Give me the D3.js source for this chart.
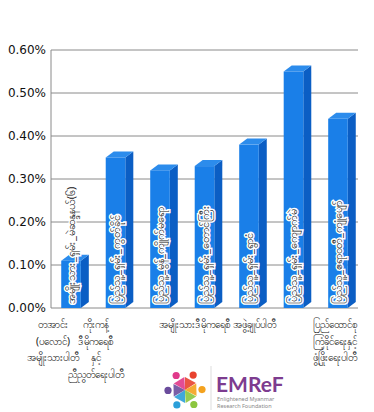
<!DOCTYPE html>
<html>
<head>
<meta charset="utf-8">
<script src="https://cdn.jsdelivr.net/npm/d3@7"></script>
<style>
  body { margin: 0; background: #fff; }
  svg { display: block; }
</style>
</head>
<body>
<div id="chart"></div>
<script>
// constituency on each bar
const seats = [
  "အမျိုးသား_ရှမ်း_မဲဆန္ဒနယ်(၆)",
  "ပြည်သူ့_ရှမ်း_ကွတ်ခိုင်",
  "ပြည်သူ့_မွန်_ကျိုက်မရော",
  "ပြည်သူ့_ရှမ်း_တောင်ကြီး",
  "ပြည်သူ့_ရှမ်း_ရွာငံ",
  "ပြည်သူ့_ရှမ်း_ကျောက်မဲ",
  "ပြည်သူ့_ဧရာဝတီ_ကျုံပျော်"
];
const values = [0.11, 0.35, 0.32, 0.33, 0.38, 0.55, 0.44];
const yTicks = [0, 0.1, 0.2, 0.3, 0.4, 0.5, 0.6];

// party groups on the x axis (first and last bar index)
const partyLines = [
  ["တအာင်း", "(ပလောင်)", "အမျိုးသားပါတီ"],
  ["ကိုးကန့်", "ဒီမိုကရေစီ", "နှင့်", "ညီညွတ်ရေးပါတီ"],
  ["အမျိုးသားဒီမိုကရေစီ အဖွဲ့ချုပ်ပါတီ"],
  ["ပြည်ထောင်စု", "ကြံ့ခိုင်ရေးနှင့်", "ဖွံ့ဖြိုးရေးပါတီ"]
];
const partyFirst = [0, 1, 2, 6];
const partyLast = [0, 1, 5, 6];

const W = 374, H = 412;
const mLeft = 51, mRight = 358, mTop = 50, mBottom = 308;
const depthX = 8, depthY = 6;
// group labels sit a little left of their bars, like in excel
const labelShift = [-18, -20, -9, -3];

const svg = d3.select("#chart").append("svg")
  .attr("width", W).attr("height", H);

const x = d3.scaleBand().domain(d3.range(values.length))
  .range([mLeft, mRight]).paddingInner(0.56).paddingOuter(0.23);
const y = d3.scaleLinear().domain([0, 0.6]).range([mBottom, mTop]);

// gridlines
svg.append("g").selectAll("line").data(yTicks).join("line")
  .attr("x1", mLeft).attr("x2", mRight)
  .attr("y1", d => y(d)).attr("y2", d => y(d))
  .attr("stroke", "#8a8a8a").attr("stroke-width", 1);

svg.append("line")
  .attr("x1", mLeft).attr("x2", mLeft).attr("y1", y(0.6)).attr("y2", y(0))
  .attr("stroke", "#8a8a8a");

// y axis labels
const yAxis = d3.axisLeft(y).tickValues(yTicks)
  .tickFormat(d => d3.format(".2f")(d) + "%").tickSize(0).tickPadding(5);
svg.append("g").attr("transform", `translate(${mLeft},0)`).call(yAxis)
  .call(g => g.select(".domain").remove())
  .selectAll("text")
  .attr("font-family", "DejaVu Sans, Verdana, sans-serif")
  .attr("font-size", 12).attr("fill", "#111");

// 3d bars
const bars = svg.append("g").selectAll("g").data(values).join("g");
bars.append("path") // side
  .attr("d", (d, i) => {
    const x1 = x(i) + x.bandwidth();
    return `M${x1},${y(d)} L${x1 + depthX},${y(d) - depthY} L${x1 + depthX},${y(0) - depthY} L${x1},${y(0)} Z`;
  })
  .attr("fill", "#0b5ec4");
bars.append("path") // top
  .attr("d", (d, i) => {
    const x0 = x(i), x1 = x(i) + x.bandwidth();
    return `M${x0},${y(d)} L${x0 + depthX},${y(d) - depthY} L${x1 + depthX},${y(d) - depthY} L${x1},${y(d)} Z`;
  })
  .attr("fill", "#2c8cec");
bars.append("rect") // front
  .attr("x", (d, i) => x(i)).attr("width", x.bandwidth())
  .attr("y", d => y(d)).attr("height", d => y(0) - y(d))
  .attr("fill", "#1a7fe8");

// labels inside bars
svg.append("g").selectAll("text").data(seats).join("text")
  .attr("transform", (d, i) => `translate(${x(i) + x.bandwidth() / 2 + 4},${y(0) - 4}) rotate(-90)`)
  .attr("font-family", "Noto Sans, DejaVu Sans, sans-serif")
  .attr("font-size", 11).attr("fill", "#111")
  .attr("stroke", "#fff").attr("stroke-width", 3).attr("paint-order", "stroke")
  .text(d => d);

// party labels
const party = svg.append("g").selectAll("text").data(partyLines).join("text")
  .attr("font-family", "Noto Sans, DejaVu Sans, sans-serif")
  .attr("font-size", 10).attr("fill", "#111").attr("text-anchor", "middle")
  .attr("transform", (d, i) => {
    const cx = (x(partyFirst[i]) + x(partyLast[i]) + x.bandwidth()) / 2 + labelShift[i];
    return `translate(${cx},328)`;
  });
party.selectAll("tspan").data(d => d).join("tspan")
  .attr("x", 0).attr("dy", (d, j) => j === 0 ? 0 : 16.5)
  .text(d => d);

// EMReF logo
const logo = svg.append("g").attr("transform", "translate(185,390)");
const figColors = ["#e8432f", "#f4a21e", "#8cc63f", "#2b9fd9", "#6a4c9c", "#e0398a"];
figColors.forEach((c, i) => {
  const a = (i * 60 - 90) * Math.PI / 180;
  logo.append("circle").attr("cx", 17 * Math.cos(a + 0.5)).attr("cy", 17 * Math.sin(a + 0.5))
    .attr("r", 3.6).attr("fill", c);
  logo.append("path")
    .attr("d", `M0,0 L${13 * Math.cos(a)},${13 * Math.sin(a)} L${13 * Math.cos(a + 1)},${13 * Math.sin(a + 1)} Z`)
    .attr("fill", c).attr("opacity", 0.9);
});
svg.append("line").attr("x1", 211).attr("x2", 211).attr("y1", 366).attr("y2", 410)
  .attr("stroke", "#ddd");
svg.append("text").attr("x", 216).attr("y", 392)
  .attr("font-family", "Lato, Noto Sans, sans-serif").attr("font-weight", "bold")
  .attr("font-size", 21).attr("fill", "#7d3c8f").text("EMReF");
svg.append("text").attr("x", 217).attr("y", 401)
  .attr("font-family", "Noto Sans, sans-serif").attr("font-size", 5.5).attr("fill", "#888")
  .text("Enlightened Myanmar");
svg.append("text").attr("x", 217).attr("y", 408)
  .attr("font-family", "Noto Sans, sans-serif").attr("font-size", 5.5).attr("fill", "#888")
  .text("Research Foundation");
</script>
</body>
</html>
